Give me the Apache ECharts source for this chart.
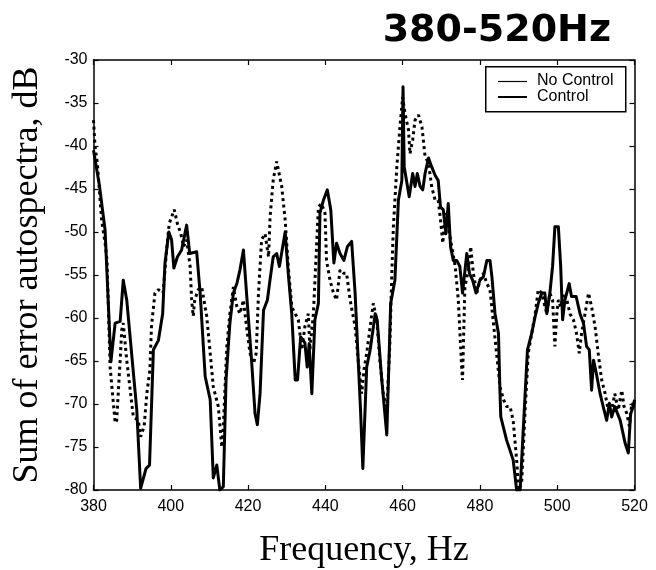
<!DOCTYPE html>
<html>
<head>
<meta charset="utf-8">
<script src="https://cdn.jsdelivr.net/npm/echarts@6/dist/echarts.min.js"></script>
<style>
html,body{margin:0;padding:0;background:#fff;}
#chart{width:656px;height:570px;}
</style>
</head>
<body>
<div id="chart"></div>
<script>
// ---- data (frequency in Hz, level in dB) ----
var xTicks = [380, 400, 420, 440, 460, 480, 500, 520];
var yTicks = [-80, -75, -70, -65, -60, -55, -50, -45, -40, -35, -30];
var legendNames = ['No Control', 'Control'];

var controlFreq = [380,381.5,383,384.5,385.6,386.9,387.7,388.6,391.2,392.2,392.7,393.6,394.5,395.5,396.8,397.9,398.5,399.5,400.2,400.8,401.7,402.8,404.1,404.9,406.7,407.6,408.9,410.2,411,411.9,412.7,413.6,414.3,415.3,416.2,417.1,417.9,418.8,419.6,420.9,421.8,422.4,423.1,424,425,425.7,426.5,427.4,428.1,429.6,430.4,431.3,432.2,432.8,433.6,434.7,435.3,435.8,436.5,437.3,438.2,438.6,439.5,440.5,441.4,442.2,442.9,443.8,444.8,445.7,446.8,447.7,448.5,449.1,449.7,450.7,451.6,452.9,453.4,454.6,455.9,456.9,458,458.9,459.8,460.1,460.4,461.7,462.6,463.2,463.8,464.5,465.2,465.8,466.7,467.5,468.4,469.2,469.8,470.5,471.2,471.8,472.4,473.1,474,474.8,475.5,476.6,477.3,478.1,479,480,480.9,481.8,482.6,483.1,483.9,484.8,485.2,485.4,486.9,488.6,489.5,490.4,491.7,492.3,493.4,494.3,495.1,496,496.8,497.3,498.1,498.8,499.4,500.3,500.9,501.4,502,503.1,503.7,504.9,505.9,506.8,507.6,508.3,508.9,509.4,510.1,511.1,511.9,512.8,513.5,514.1,514.9,516.3,517.6,518.4,519,519.7,520];
var controlDb = [-40.5,-44.5,-49.8,-65.1,-60.6,-60.4,-55.6,-57.9,-70.7,-79.8,-80,-77.5,-77.1,-63.7,-62.6,-59.5,-53.6,-50,-50.9,-54.2,-52.9,-52.1,-49.2,-52.5,-52.3,-57.1,-66.8,-69.5,-78.6,-77.1,-80,-79.6,-67.2,-60.6,-57.1,-56,-54.4,-52.1,-57.1,-64.9,-71.1,-72.4,-68.8,-59.1,-57.9,-55.5,-52.9,-52.5,-54,-50,-54.8,-59.5,-67.2,-67.2,-62.2,-62.9,-65.7,-63,-68.8,-60.2,-58.3,-47.8,-46.3,-45.1,-47.4,-53.6,-51.3,-52.5,-53.3,-51.7,-51.1,-57.1,-64.9,-70.7,-77.5,-65.7,-63.7,-59.5,-60.2,-67.2,-73.6,-58.3,-55.6,-46.3,-44,-33.1,-42.4,-45.9,-43.2,-44.7,-43.2,-44.7,-45.1,-43.2,-41.4,-42.4,-43.4,-44,-47.1,-47.4,-50.2,-46.7,-51.7,-53.3,-53.3,-54,-57.1,-52.5,-54.8,-55.6,-57.1,-55.6,-55.2,-53.3,-53.3,-55.2,-59.5,-61.8,-68.8,-71.5,-74.2,-76.5,-80,-80,-68.8,-63.7,-61.8,-59.8,-58.3,-57.1,-57.1,-59.5,-57.1,-54,-49.4,-49.4,-54,-60.2,-57.9,-56,-57.5,-57.5,-59.5,-60.6,-63.3,-63.7,-68.4,-64.9,-66.4,-68.8,-70.3,-71.9,-69.9,-71.5,-70.3,-71.9,-74.6,-75.7,-71.1,-70.3,-69.5];

var noControlFreq = [380,380.4,381,382.1,383,383.5,384.3,385.6,386,386.9,387.3,387.7,388.6,390.3,391.6,392.2,393.1,393.8,394.6,395,395.9,396.8,398,399,399.6,400.9,401.7,402.6,403.3,404.1,405,405.4,405.8,406.2,407.1,408,409.3,410.2,411,412.3,413.2,413.6,414.5,415.3,416.2,417.1,417.9,418.8,419.6,420.5,421.4,422.1,422.7,423.5,424.4,425.3,425.7,426.5,427.4,428.7,429.6,430.4,431.3,432.2,433,433.9,434.7,435.6,436,436.9,438.2,439,439.9,440.3,441.2,442.1,442.9,443.8,444.7,445.5,446.4,447.7,448.5,449.4,450,450.7,451.6,452.4,453.3,454.1,455,455.9,456.7,457.2,457.6,458.5,459.3,460,460.6,461.5,461.9,462.6,463.2,464.1,465,465.8,466.7,467.5,468.4,469.2,469.8,470.4,471,471.8,472.7,473.6,474.4,475.3,475.5,476.1,477,477.6,478.3,479.2,480,480.9,481.8,482.6,483.5,484.3,485.2,486.1,486.9,487.8,488.6,489.5,490,490.8,491.7,492.5,493.4,494.3,495.1,496,496.4,497.3,498.1,498.8,499.4,499.9,500.3,500.9,501.6,502.5,503.3,504.2,505,505.7,506.3,507.2,508.1,508.9,509.8,510.6,511.5,512.4,513.2,514.1,514.9,515.8,516.7,517.3,518,518.7,519.3,520];
var noControlDb = [-37,-40.1,-42,-48.6,-51.3,-53.3,-65.7,-72.2,-71.9,-64.9,-61.4,-60.6,-64.9,-71.5,-71.9,-73.8,-72.6,-68.8,-66,-61,-57.1,-56.7,-57.1,-51.7,-49,-47.4,-49,-50.2,-51.7,-50.9,-54,-57.9,-59.8,-57.9,-56.7,-56.4,-59.8,-64.1,-68,-70.3,-75,-72.6,-63.3,-59.5,-56.4,-58.7,-59.5,-57.9,-61,-64.1,-65.3,-64.1,-57.1,-50.9,-50.2,-52.9,-48.2,-44,-41.8,-44.7,-48.6,-54,-58.7,-59.5,-60.2,-63.7,-61,-59.5,-63.7,-59.5,-47.1,-46.7,-47.8,-53.3,-55.6,-57.1,-57.9,-54.4,-54.8,-54.8,-57.9,-61,-64.9,-68.8,-66,-64.1,-61,-58.3,-60.2,-64.9,-68.8,-70.7,-62.9,-54.8,-49.4,-42.4,-37.8,-34.3,-36.2,-38.1,-40.9,-39.3,-37,-36.4,-37.8,-41.2,-42,-44.7,-46.3,-46.3,-48.6,-51.3,-47.8,-49.4,-51.7,-54,-57.9,-66,-67.2,-56.4,-54.4,-51.7,-54.8,-57.1,-55.6,-54.8,-56,-56.7,-60.6,-64.1,-68,-69.5,-70.3,-70.3,-71.9,-76.5,-80,-79.2,-70.7,-64.1,-61.8,-59.5,-56.7,-57.1,-57.9,-59.5,-57.1,-57.9,-63.3,-59.5,-57.9,-58.7,-57.1,-57.9,-59.5,-60.2,-61.8,-64.1,-61.8,-59.5,-57.1,-58.7,-61,-64.1,-67.2,-68.8,-70.7,-70.7,-68.8,-70.7,-68.4,-70.3,-71.1,-72.6,-69.9,-70.5];

function pairs(xs, ys) { return xs.map(function (x, i) { return [x, ys[i]]; }); }

var chart = echarts.init(document.getElementById('chart'), null, {renderer: 'canvas'});

var xMin = xTicks[0], xMax = xTicks[xTicks.length - 1];
var yMin = yTicks[0], yMax = yTicks[yTicks.length - 1];

var baseAxisLine = {show: true, symbol: 'none', lineStyle: {color: '#000', width: 1.5}};
var tick = {show: true, inside: true, length: 5, lineStyle: {color: '#000', width: 1.2}};
var legendFont = '16px "Liberation Sans"';

chart.setOption({
  animation: false,
  backgroundColor: '#fff',
  title: {
    text: '380-520Hz',
    right: 40,
    top: 7,
    textStyle: {fontFamily: 'DejaVu Sans', fontWeight: 'bold', fontSize: 38, color: '#000'}
  },
  legend: {show: false},
  grid: {left: 93.5, right: 21.5, top: 60, bottom: 80, containLabel: false, outerBoundsMode: 'none'},
  xAxis: [
    {
      type: 'value', min: xMin, max: xMax, interval: 20, position: 'bottom',
      name: 'Frequency, Hz', nameLocation: 'middle', nameGap: 43,
      nameTextStyle: {fontFamily: 'Liberation Serif', fontSize: 36, color: '#000'},
      axisLine: baseAxisLine, axisTick: tick,
      axisLabel: {fontFamily: 'Liberation Sans', fontSize: 16, color: '#000', margin: 9},
      splitLine: {show: false}
    },
    {
      type: 'value', min: xMin, max: xMax, interval: 20, position: 'top',
      axisLine: baseAxisLine, axisTick: tick, axisLabel: {show: false}, splitLine: {show: false}
    }
  ],
  yAxis: [
    {
      type: 'value', min: yMin, max: yMax, interval: 5, position: 'left',
      name: 'Sum of error autospectra, dB', nameLocation: 'middle', nameGap: 48,
      nameTextStyle: {fontFamily: 'Liberation Serif', fontSize: 36, color: '#000'},
      axisLine: baseAxisLine, axisTick: tick,
      axisLabel: {fontFamily: 'Liberation Sans', fontSize: 16, color: '#000', margin: 6},
      splitLine: {show: false}
    },
    {
      type: 'value', min: yMin, max: yMax, interval: 5, position: 'right',
      axisLine: baseAxisLine, axisTick: tick, axisLabel: {show: false}, splitLine: {show: false}
    }
  ],
  graphic: [
    {type: 'rect', left: 485, top: 66, z: 100,
     shape: {width: 140, height: 45}, style: {fill: '#fff', stroke: '#000', lineWidth: 1.5}},
    {type: 'line', z: 101, shape: {x1: 498, y1: 81.5, x2: 527, y2: 81.5}, style: {stroke: '#000', lineWidth: 1.2}},
    {type: 'text', z: 101, left: 537, top: 73,
     style: {text: legendNames[0], font: legendFont, fill: '#000'}},
    {type: 'line', z: 101, shape: {x1: 498, y1: 97, x2: 527, y2: 97}, style: {stroke: '#000', lineWidth: 2}},
    {type: 'text', z: 101, left: 537, top: 89,
     style: {text: legendNames[1], font: legendFont, fill: '#000'}}
  ],
  series: [
    {
      name: legendNames[0], type: 'line', xAxisIndex: 0, yAxisIndex: 0,
      data: pairs(noControlFreq, noControlDb),
      symbol: 'none', showSymbol: false, clip: true,
      lineStyle: {color: '#000', width: 3, type: [3, 3.5], cap: 'butt'},
      itemStyle: {color: '#000'},
      z: 2
    },
    {
      name: legendNames[1], type: 'line', xAxisIndex: 0, yAxisIndex: 0,
      data: pairs(controlFreq, controlDb),
      symbol: 'none', showSymbol: false, clip: true,
      lineStyle: {color: '#000', width: 3, join: 'round'},
      itemStyle: {color: '#000'},
      z: 3
    }
  ]
});
</script>
</body>
</html>
